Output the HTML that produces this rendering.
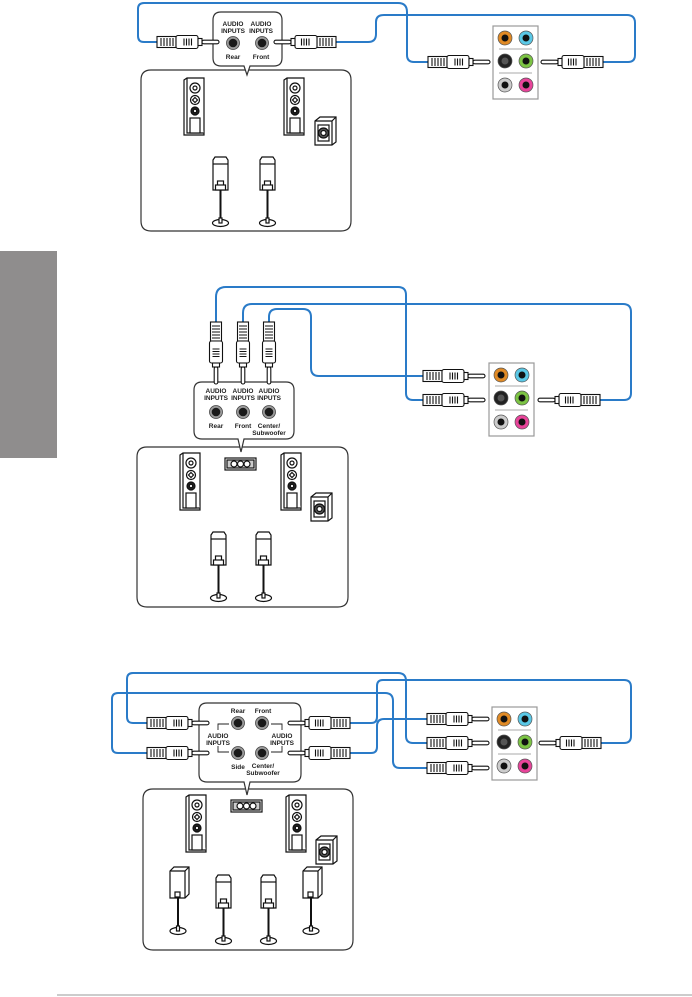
<!DOCTYPE html>
<html><head><meta charset="utf-8"><style>
html,body{margin:0;padding:0;background:#fff;}
svg{display:block;}
text{font-family:"Liberation Sans",sans-serif;font-weight:bold;fill:#222;}
</style></head><body>
<svg width="692" height="997" viewBox="0 0 692 997" xmlns="http://www.w3.org/2000/svg">
<defs>
<g id="plug" stroke="#111" stroke-width="1.1" fill="#fff">
  <rect x="0" y="-5.5" width="19" height="11"/>
  <path d="M4-4V4M7-4V4M10-4V4M13-4V4M16-4V4"/>
  <rect x="19" y="-6.5" width="22" height="13" rx="2"/>
  <path d="M27-3.5V3.5M29.5-3.5V3.5M32-3.5V3.5M34.5-3.5V3.5"/>
  <rect x="41" y="-3.5" width="4" height="7"/>
  <rect x="45" y="-1.8" width="17" height="3.6" rx="1.8"/>
</g>
<g id="jack"><circle r="6.5" fill="#9a9a9a" stroke="#444" stroke-width="0.8"/><circle r="4.3" fill="#1a1a1a"/></g>
<g id="tower" stroke="#111" stroke-width="1.2" fill="#fff">
  <path d="M0 2L3 0H20V57H0Z"/>
  <path d="M3 0V55H20"/>
  <circle cx="11" cy="10" r="5"/><circle cx="11" cy="10" r="2"/>
  <circle cx="11" cy="22" r="4.5"/><path d="M11 19.5L13.5 22 11 24.5 8.5 22Z"/>
  <circle cx="11" cy="33" r="4" fill="#222"/><circle cx="11" cy="33" r="1.7"/>
  <rect x="6" y="40" width="10" height="15"/>
</g>
<g id="sub" stroke="#111" stroke-width="1.2" fill="#fff">
  <path d="M0 4L5 0H21V25L17 28H0Z"/><path d="M0 4H17V28M17 4L21 0"/>
  <rect x="3" y="8" width="11" height="16"/><circle cx="8.5" cy="16" r="5" fill="#555"/><circle cx="8.5" cy="16" r="2.5"/>
</g>
<g id="stand" stroke="#111" stroke-width="1.2" fill="#fff">
  <path d="M0 3L2 0H13L15 3V33H0Z"/><path d="M0 7H15"/>
  <rect x="4.5" y="24" width="6" height="5"/><rect x="2.5" y="28" width="10" height="5"/>
  <path d="M7.5 33V62" stroke-width="2"/>
  <ellipse cx="7.5" cy="66" rx="8" ry="3.5"/><rect x="6" y="61" width="3" height="5"/>
</g>
<g id="cube" stroke="#111" stroke-width="1.2" fill="#fff">
  <path d="M0 4L4 0H19V27L15 31H0Z"/><path d="M0 4H15V31M15 4L19 0"/>
  <rect x="5" y="25" width="5" height="5"/>
  <path d="M8 31V60" stroke-width="2"/>
  <ellipse cx="8" cy="64" rx="8" ry="3.5"/><rect x="6.5" y="59" width="3" height="5"/>
</g>
<g id="center" stroke="#111" stroke-width="1.2" fill="#fff">
  <rect x="0" y="0" width="31" height="12"/><rect x="2" y="2" width="27" height="8" fill="#ccc"/>
  <circle cx="9" cy="6" r="3" fill="#fff"/><circle cx="15.5" cy="6" r="3" fill="#fff"/><circle cx="22" cy="6" r="3" fill="#fff"/>
</g>
<g id="panel">
  <rect x="0" y="0" width="45" height="73" fill="#fff" stroke="#999" stroke-width="1.2"/>
  <path d="M6 23H39M6 47H39" stroke="#bbb" stroke-width="1.2"/>
  <g stroke="#555" stroke-width="0.7">
  <circle cx="12" cy="12" r="7" fill="#e08a25"/><circle cx="33" cy="12" r="7" fill="#5ac8e6"/>
  <circle cx="12" cy="35" r="7" fill="#222"/><circle cx="33" cy="35" r="7" fill="#7cc444"/>
  <circle cx="12" cy="59" r="7" fill="#ccc"/><circle cx="33" cy="59" r="7" fill="#e8449a"/>
  </g>
  <g fill="#111"><circle cx="12" cy="12" r="3.5"/><circle cx="33" cy="12" r="3.5"/><circle cx="12" cy="35" r="3.5" fill="#555"/><circle cx="33" cy="35" r="3.5"/><circle cx="12" cy="59" r="3.5"/><circle cx="33" cy="59" r="3.5"/></g>
</g>
</defs>

<rect x="0" y="251" width="57" height="207" fill="#8f8d8d"/>
<rect x="57" y="994" width="635" height="2" fill="#ccc"/>

<!-- ===== TOP ===== -->
<g fill="none" stroke="#2a7bc8" stroke-width="2">
  <path d="M157 42H144Q138 42 138 36V9Q138 3 144 3H398Q407 3 407 12V55Q407 62 414 62H428"/>
  <path d="M336 42H368Q376 42 376 34V22Q376 15 384 15H627Q635 15 635 23V55Q635 62 628 62H603"/>
</g>
<path d="M141 80Q141 70 151 70H341Q351 70 351 80V221Q351 231 341 231H151Q141 231 141 221Z" fill="#fff" stroke="#333" stroke-width="1.2"/>
<path d="M213 20Q213 12 221 12H274Q282 12 282 20V58Q282 66 274 66H250L247 75 244 66H221Q213 66 213 58Z" fill="#fff" stroke="#333" stroke-width="1.2"/>
<use href="#plug" x="157" y="42"/>
<use href="#plug" transform="translate(336,42) scale(-1,1)"/>
<use href="#plug" x="428" y="62"/>
<use href="#plug" transform="translate(603,62) scale(-1,1)"/>
<text x="233" y="26" font-size="6.5" text-anchor="middle">AUDIO</text><text x="233" y="33" font-size="6.5" text-anchor="middle">INPUTS</text>
<text x="261" y="26" font-size="6.5" text-anchor="middle">AUDIO</text><text x="261" y="33" font-size="6.5" text-anchor="middle">INPUTS</text>
<use href="#jack" x="233" y="43"/><use href="#jack" x="262" y="43"/>
<text x="233" y="59" font-size="6.5" text-anchor="middle" font-weight="normal">Rear</text>
<text x="261" y="59" font-size="6.5" text-anchor="middle" font-weight="normal">Front</text>
<use href="#panel" x="493" y="26"/>
<use href="#tower" x="184" y="78"/><use href="#tower" x="284" y="78"/>
<use href="#sub" x="315" y="117"/>
<use href="#stand" x="213" y="157"/><use href="#stand" x="260" y="157"/>

<!-- ===== MIDDLE ===== -->
<g fill="none" stroke="#2a7bc8" stroke-width="2">
  <path d="M216 322V297Q216 287 226 287H398Q406 287 406 295V393Q406 400 413 400H423"/>
  <path d="M243 322V313Q243 304 252 304H623Q631 304 631 312V393Q631 400 624 400H600"/>
  <path d="M269 322V317Q269 309 277 309H303Q311 309 311 317V368Q311 376 319 376H423"/>
</g>
<path d="M137 457Q137 447 147 447H338Q348 447 348 457V597Q348 607 338 607H147Q137 607 137 597Z" fill="#fff" stroke="#333" stroke-width="1.2"/>
<path d="M194 390Q194 382 202 382H286Q294 382 294 390V431Q294 439 286 439H244L241 452 238 439H202Q194 439 194 431Z" fill="#fff" stroke="#333" stroke-width="1.2"/>
<use href="#plug" transform="translate(216,322) rotate(90)"/>
<use href="#plug" transform="translate(243,322) rotate(90)"/>
<use href="#plug" transform="translate(269,322) rotate(90)"/>
<use href="#plug" x="423" y="376"/><use href="#plug" x="423" y="400"/>
<use href="#plug" transform="translate(600,400) scale(-1,1)"/>
<g font-size="6.5" text-anchor="middle">
<text x="216" y="393">AUDIO</text><text x="216" y="400">INPUTS</text>
<text x="243" y="393">AUDIO</text><text x="243" y="400">INPUTS</text>
<text x="269" y="393">AUDIO</text><text x="269" y="400">INPUTS</text>
<text x="216" y="428" font-weight="normal">Rear</text><text x="243" y="428" font-weight="normal">Front</text>
<text x="269" y="428" font-weight="normal">Center/</text><text x="269" y="435" font-weight="normal">Subwoofer</text>
</g>
<use href="#jack" x="216" y="412"/><use href="#jack" x="243" y="412"/><use href="#jack" x="269" y="412"/>
<use href="#panel" x="489" y="363"/>
<use href="#center" x="225" y="458"/>
<use href="#tower" x="180" y="453"/><use href="#tower" x="281" y="453"/>
<use href="#sub" x="311" y="493"/>
<use href="#stand" x="211" y="532"/><use href="#stand" x="256" y="532"/>

<!-- ===== BOTTOM ===== -->
<g fill="none" stroke="#2a7bc8" stroke-width="2">
  <path d="M147 723H133Q127 723 127 717V679Q127 673 133 673H398Q406 673 406 681V736Q406 743 413 743H427"/>
  <path d="M147 753H118Q112 753 112 747V699Q112 693 118 693H385Q393 693 393 701V761Q393 768 400 768H427"/>
  <path d="M350 723H371Q377 723 377 717V686Q377 680 383 680H624Q631 680 631 687V736Q631 743 624 743H601"/>
  <path d="M350 753H371Q377 753 377 747V726Q377 719 384 719H427"/>
</g>
<path d="M143 799Q143 789 153 789H343Q353 789 353 799V940Q353 950 343 950H153Q143 950 143 940Z" fill="#fff" stroke="#333" stroke-width="1.2"/>
<path d="M199 711Q199 703 207 703H293Q301 703 301 711V774Q301 782 293 782H250L247 795 244 782H207Q199 782 199 774Z" fill="#fff" stroke="#333" stroke-width="1.2"/>
<use href="#plug" x="147" y="723"/><use href="#plug" x="147" y="753"/>
<use href="#plug" transform="translate(350,723) scale(-1,1)"/>
<use href="#plug" transform="translate(350,753) scale(-1,1)"/>
<use href="#plug" x="427" y="719"/><use href="#plug" x="427" y="743"/><use href="#plug" x="427" y="768"/>
<use href="#plug" transform="translate(601,743) scale(-1,1)"/>
<path d="M229 724H218V730M218 746V752H229M271 724H282V730M282 746V752H271" fill="none" stroke="#222" stroke-width="0.9"/>
<use href="#jack" x="238" y="723"/><use href="#jack" x="262" y="723"/>
<use href="#jack" x="238" y="753"/><use href="#jack" x="262" y="753"/>
<g font-size="6.5" text-anchor="middle">
<text x="238" y="713">Rear</text><text x="263" y="713">Front</text>
<text x="218" y="738">AUDIO</text><text x="218" y="745">INPUTS</text>
<text x="282" y="738">AUDIO</text><text x="282" y="745">INPUTS</text>
<text x="238" y="769">Side</text><text x="263" y="768">Center/</text><text x="263" y="775">Subwoofer</text>
</g>
<use href="#panel" x="492" y="707"/>
<use href="#center" x="231" y="800"/>
<use href="#tower" x="186" y="795"/><use href="#tower" x="286" y="795"/>
<use href="#sub" x="316" y="836"/>
<use href="#cube" x="170" y="867"/><use href="#cube" x="303" y="867"/>
<use href="#stand" x="216" y="875"/><use href="#stand" x="261" y="875"/>
</svg>
</body></html>
